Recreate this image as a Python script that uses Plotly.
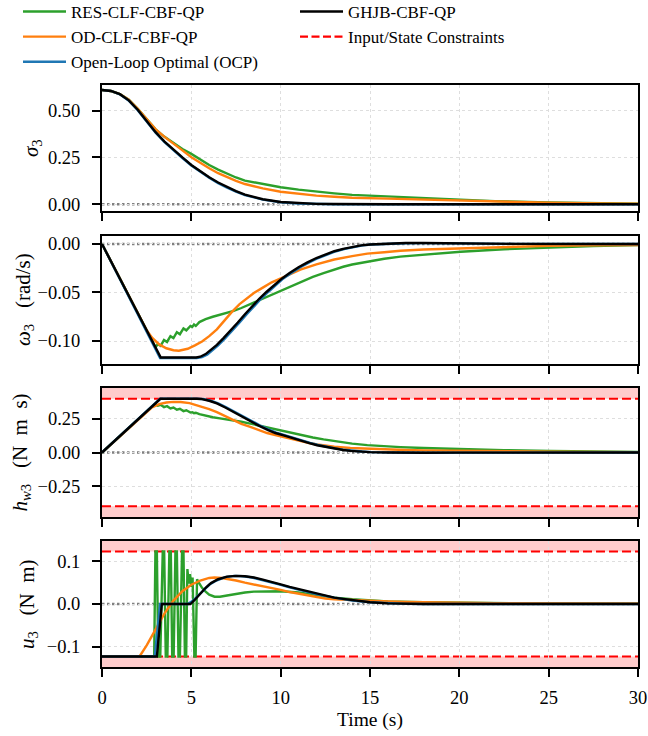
import plotly.graph_objects as go

# ---------------- data ----------------
# Panel 1: sigma_3
T_SIG = [0, 0.5, 1, 1.5, 2, 2.5, 3, 3.5, 4, 4.5, 5, 5.5, 6, 6.5, 7, 7.5, 8, 9, 10, 11, 12, 13, 14, 16, 18, 20, 22, 25, 28, 30]
SIG_RES = [0.61, 0.605, 0.589, 0.558, 0.51, 0.456, 0.40, 0.36, 0.325, 0.295, 0.269, 0.238, 0.21, 0.185, 0.162, 0.143, 0.126, 0.107, 0.091, 0.078, 0.067, 0.058, 0.050, 0.041, 0.032, 0.024, 0.017, 0.010, 0.005, 0.003]
SIG_OD = [0.61, 0.605, 0.589, 0.558, 0.51, 0.455, 0.40, 0.36, 0.326, 0.288, 0.251, 0.22, 0.192, 0.166, 0.144, 0.125, 0.108, 0.085, 0.067, 0.055, 0.046, 0.040, 0.035, 0.030, 0.025, 0.019, 0.014, 0.008, 0.004, 0.003]
SIG_OCP = [0.61, 0.605, 0.587, 0.553, 0.502, 0.442, 0.382, 0.332, 0.287, 0.247, 0.207, 0.172, 0.141, 0.113, 0.088, 0.068, 0.049, 0.025, 0.011, 0.004, 0.001, 0, 0, 0, 0, 0, 0, 0, 0, 0]
SIG_GHJB = [0.61, 0.605, 0.588, 0.555, 0.505, 0.445, 0.385, 0.335, 0.29, 0.25, 0.21, 0.175, 0.144, 0.116, 0.091, 0.070, 0.051, 0.027, 0.012, 0.005, 0.002, 0.001, 0, 0, 0, 0, 0, 0, 0, 0]

# Panel 2: omega_3 (rad/s)
T_W_RES = [0, 3.0, 3.12, 3.28, 3.47, 3.64, 3.83, 4.00, 4.19, 4.36, 4.56, 4.72, 4.95, 5.05, 5.15, 5.25, 5.45, 5.8, 6.2, 6.6, 7.0, 7.37, 7.8, 8.3, 8.77, 9.3, 9.8, 10.3, 10.8, 11.3, 11.8, 12.4, 13.0, 13.5, 14.0, 14.85, 15.8, 16.7, 18.0, 19.0, 20.08, 22.5, 25.1, 27.5, 30]
W_RES = [0, -0.1067, -0.1030, -0.1050, -0.0990, -0.1010, -0.0950, -0.0970, -0.0910, -0.0930, -0.0870, -0.0890, -0.0845, -0.0855, -0.0830, -0.0845, -0.0805, -0.0775, -0.0750, -0.0730, -0.0708, -0.0690, -0.0660, -0.0620, -0.0580, -0.0535, -0.0495, -0.0455, -0.0415, -0.0375, -0.0340, -0.0300, -0.0262, -0.0235, -0.0212, -0.0180, -0.0152, -0.0130, -0.0108, -0.0093, -0.0080, -0.0055, -0.0035, -0.0022, -0.0012]
T_W_OD = [0, 2.5, 2.8, 3.2, 3.6, 4.0, 4.3, 4.8, 5.2, 5.6, 6.0, 6.43, 6.85, 7.27, 7.7, 8.1, 8.5, 9.0, 9.5, 10.2, 11.1, 12.0, 13.0, 14.0, 14.85, 15.8, 16.7, 18.0, 20.0, 22.5, 25, 27.5, 30]
W_OD = [0, -0.0889, -0.0965, -0.1035, -0.1075, -0.1095, -0.110, -0.108, -0.1045, -0.1005, -0.095, -0.088, -0.079, -0.070, -0.062, -0.056, -0.0505, -0.045, -0.0395, -0.034, -0.0265, -0.021, -0.016, -0.0125, -0.010, -0.0085, -0.007, -0.0057, -0.0045, -0.003, -0.002, -0.0015, -0.001]
T_W_OCP = [0, 3.25, 5.3, 5.6, 5.9, 6.2, 6.5, 6.9, 7.3, 7.7, 8.1, 8.5, 8.9, 9.3, 9.7, 10.15, 10.6, 11.1, 11.6, 12.1, 12.6, 13.1, 13.6, 14.1, 14.6, 15.1, 16, 17, 18, 19.5, 21, 23, 30]
W_OCP = [0, -0.1175, -0.1175, -0.1165, -0.114, -0.1095, -0.1045, -0.097, -0.0895, -0.081, -0.0725, -0.064, -0.0565, -0.0495, -0.043, -0.0355, -0.030, -0.024, -0.019, -0.0145, -0.011, -0.0075, -0.005, -0.003, -0.0015, -0.0005, 0.0004, 0.0008, 0.0009, 0.0006, 0.0003, 0.0001, 0]
T_W_GHJB = [0, 3.29, 5.27, 5.5, 5.8, 6.1, 6.43, 6.8, 7.2, 7.6, 8.0, 8.4, 8.8, 9.2, 9.6, 10.08, 10.5, 11.0, 11.5, 12.0, 12.5, 13.0, 13.5, 14, 14.5, 15, 16, 17, 18, 19.5, 21, 23, 30]
W_GHJB = [0, -0.117, -0.117, -0.1162, -0.1135, -0.109, -0.104, -0.097, -0.0895, -0.081, -0.0725, -0.064, -0.0565, -0.0495, -0.043, -0.0355, -0.030, -0.024, -0.019, -0.0145, -0.011, -0.0075, -0.005, -0.003, -0.0015, -0.0005, 0.0005, 0.001, 0.001, 0.0006, 0.0003, 0.0001, 0]

# Panel 3: h_w3 (N m s)
T_H_RES = [0, 2.95, 3.12, 3.28, 3.47, 3.64, 3.83, 4.0, 4.19, 4.36, 4.56, 4.72, 4.95, 5.05, 5.15, 5.25, 5.45, 5.8, 6.2, 6.6, 7.0, 7.37, 7.8, 8.3, 8.8, 9.3, 9.8, 10.3, 10.8, 11.3, 11.8, 12.4, 13.0, 13.5, 14.0, 14.85, 15.8, 16.7, 18.0, 19.0, 20.08, 22.5, 25.1, 27.5, 30]
H_RES = [0, 0.36, 0.348, 0.355, 0.338, 0.345, 0.328, 0.335, 0.318, 0.325, 0.308, 0.314, 0.297, 0.300, 0.293, 0.296, 0.285, 0.273, 0.262, 0.254, 0.247, 0.240, 0.229, 0.215, 0.200, 0.185, 0.170, 0.156, 0.142, 0.125, 0.112, 0.098, 0.085, 0.075, 0.066, 0.055, 0.046, 0.040, 0.033, 0.029, 0.025, 0.017, 0.011, 0.007, 0.004]
T_H_OD = [0, 2.5, 2.8, 3.2, 3.6, 4.0, 4.4, 4.9, 5.5, 6.0, 6.43, 6.9, 7.37, 7.8, 8.3, 8.8, 9.24, 9.7, 10.17, 10.7, 11.1, 11.6, 12.04, 12.5, 13.0, 13.9, 14.85, 15.8, 17, 18, 19.5, 22, 25.1, 27.5, 30]
H_OD = [0, 0.304, 0.335, 0.36, 0.372, 0.377, 0.376, 0.367, 0.346, 0.323, 0.30, 0.27, 0.238, 0.213, 0.190, 0.165, 0.145, 0.130, 0.115, 0.097, 0.085, 0.071, 0.060, 0.051, 0.043, 0.034, 0.028, 0.023, 0.019, 0.016, 0.013, 0.009, 0.006, 0.004, 0.003]
T_H_OCP = [0, 3.25, 5.35, 5.65, 6.05, 6.5, 6.95, 7.42, 7.85, 8.35, 8.85, 9.35, 9.75, 10.22, 10.75, 11.15, 11.65, 12.1, 12.55, 13.05, 13.55, 13.95, 14.55, 15.05, 16, 17, 18, 20, 23, 30]
H_OCP = [0, 0.4, 0.4, 0.398, 0.387, 0.366, 0.337, 0.303, 0.271, 0.235, 0.201, 0.170, 0.148, 0.130, 0.107, 0.090, 0.072, 0.056, 0.043, 0.031, 0.020, 0.013, 0.007, 0.003, 0.0, -0.0015, -0.0015, -0.001, 0, 0]
T_H_GHJB = [0, 3.27, 5.3, 5.6, 6.0, 6.43, 6.9, 7.37, 7.8, 8.3, 8.8, 9.3, 9.7, 10.17, 10.7, 11.1, 11.6, 12.04, 12.5, 13.0, 13.5, 13.9, 14.5, 15, 16, 17, 18, 20, 23, 30]
H_GHJB = [0, 0.4, 0.4, 0.397, 0.385, 0.365, 0.335, 0.30, 0.268, 0.232, 0.198, 0.167, 0.145, 0.128, 0.105, 0.088, 0.070, 0.054, 0.042, 0.030, 0.019, 0.012, 0.006, 0.003, 0.0, -0.002, -0.002, -0.001, 0, 0]

# Panel 4: u_3 (N m)
T_U_RES = [0, 2.92, 2.99, 3.07, 3.15, 3.26, 3.40, 3.48, 3.57, 3.66, 3.77, 3.85, 3.93, 4.01, 4.11, 4.19, 4.28, 4.36, 4.48, 4.56, 4.64, 4.71, 4.78, 4.85, 4.93, 5.0, 5.07, 5.17, 5.24, 5.32, 5.42, 5.6, 5.8, 6.0, 6.3, 6.6, 7.0, 7.5, 8.0, 8.5, 9.2, 10.0, 11.0, 12.0, 13.0, 14.0, 15.0, 16.0, 18.0, 20.0, 22.0, 25.0, 30.0]
U_RES = [-0.123, -0.123, 0.123, 0.123, -0.123, -0.123, 0.123, 0.123, -0.123, -0.123, 0.123, 0.123, -0.123, -0.123, 0.123, 0.123, -0.123, -0.123, 0.123, 0.123, -0.123, -0.123, 0.082, 0.048, 0.070, 0.040, 0.062, -0.123, -0.123, 0.058, 0.050, 0.038, 0.029, 0.022, 0.017, 0.017, 0.020, 0.024, 0.027, 0.029, 0.030, 0.030, 0.027, 0.021, 0.015, 0.011, 0.008, 0.006, 0.004, 0.003, 0.002, 0.001, 0.0005]
T_U_OD = [0, 2.1, 2.5, 3.0, 3.5, 4.0, 4.5, 5.0, 5.5, 6.0, 6.3, 6.7, 7.0, 7.5, 8.0, 8.5, 9.0, 9.5, 10.0, 10.5, 11.0, 11.5, 12.0, 12.5, 13.0, 14.0, 15.0, 16, 17, 18, 20, 22, 25, 30]
U_OD = [-0.123, -0.123, -0.097, -0.058, -0.022, 0.008, 0.030, 0.045, 0.055, 0.061, 0.062, 0.061, 0.059, 0.055, 0.050, 0.046, 0.042, 0.037, 0.033, 0.028, 0.024, 0.020, 0.016, 0.013, 0.011, 0.009, 0.007, 0.006, 0.005, 0.004, 0.003, 0.002, 0.0015, 0.001]
T_U_OCP = [0, 2.95, 3.25, 4.8, 5.1, 5.4, 5.7, 6.0, 6.4, 6.9, 7.4, 7.9, 8.4, 8.9, 9.4, 9.9, 10.5, 11, 12, 13, 14, 15, 16, 17, 18, 30]
U_OCP = [-0.123, -0.123, 0, 0, 0.008, 0.021, 0.034, 0.045, 0.055, 0.063, 0.066, 0.065, 0.062, 0.057, 0.052, 0.046, 0.039, 0.034, 0.023, 0.015, 0.008, 0.004, 0.0015, 0.0003, 0, 0]
T_U_GHJB = [0, 3.07, 3.35, 4.95, 5.2, 5.5, 5.8, 6.1, 6.5, 7.0, 7.5, 8.0, 8.5, 9.0, 9.5, 10.0, 10.5, 11.0, 11.5, 12.0, 12.5, 13.0, 13.5, 14.0, 14.5, 15.0, 16.0, 17, 18, 30]
U_GHJB = [-0.123, -0.123, 0, 0, 0.010, 0.025, 0.038, 0.049, 0.058, 0.064, 0.066, 0.065, 0.062, 0.057, 0.052, 0.046, 0.040, 0.035, 0.029, 0.024, 0.019, 0.015, 0.012, 0.009, 0.006, 0.004, 0.0015, 0.0003, 0, 0]

H_MAX = 0.4      # wheel momentum limit
U_MAX = 0.123    # torque limit

X_TICKS = [0, 5, 10, 15, 20, 25, 30]
Y_TICKS = [[0, 0.25, 0.5], [-0.10, -0.05, 0.0], [-0.25, 0.0, 0.25], [-0.1, 0.0, 0.1]]
Y_FMT = [".2f", ".2f", ".2f", ".1f"]
Y_RANGES = [[-0.036, 0.637], [-0.1237, 0.0082], [-1.2 * H_MAX, 1.2 * H_MAX], [-1.2 * U_MAX, 1.2 * U_MAX]]
SP = "&nbsp;"
Y_LABELS = ["<i>σ</i><sub>3</sub>",
            f"<i>ω</i><sub>3</sub>{SP*3}(rad/s)",
            f"<i>h</i><sub><i>w</i>3</sub>{SP*3}(N{SP*2}m{SP*2}s)",
            f"<i>u</i><sub>3</sub>{SP*3}(N{SP*2}m)"]
LABEL_X_PX = [32, 24, 20, 28]

NAMES = ["RES-CLF-CBF-QP", "OD-CLF-CBF-QP", "Open-Loop Optimal (OCP)", "GHJB-CBF-QP"]
COLORS = ["#2ca02c", "#ff7f0e", "#1f77b4", "#000000"]
RANKS = [1, 3, 5, 2]

PANELS = [
    [(T_SIG, SIG_RES), (T_SIG, SIG_OD), (T_SIG, SIG_OCP), (T_SIG, SIG_GHJB)],
    [(T_W_RES, W_RES), (T_W_OD, W_OD), (T_W_OCP, W_OCP), (T_W_GHJB, W_GHJB)],
    [(T_H_RES, H_RES), (T_H_OD, H_OD), (T_H_OCP, H_OCP), (T_H_GHJB, H_GHJB)],
    [(T_U_RES, U_RES), (T_U_OD, U_OD), (T_U_OCP, U_OCP), (T_U_GHJB, U_GHJB)],
]

# ---------------- layout geometry ----------------
W, H = 648, 736
ML, MR, MT, MB = 102, 10, 85, 69
PH = H - MT - MB
panel_px = [(85, 211), (236, 364), (388, 517), (541, 667)]
domains = [[(H - MB - b) / PH, (H - MB - t) / PH] for (t, b) in panel_px]

FONT = "Liberation Serif, Times New Roman, serif"
TICK_SIZE = 18.5
LABEL_SIZE = 21
LEG_SIZE = 17

fig = go.Figure()

for p, series in enumerate(PANELS):
    xa = "x" if p == 0 else f"x{p+1}"
    ya = "y" if p == 0 else f"y{p+1}"
    for s, (tt, vv) in enumerate(series):
        fig.add_trace(go.Scatter(
            x=tt, y=vv, mode="lines", name=NAMES[s], legendrank=RANKS[s],
            line=dict(color=COLORS[s], width=2.4), xaxis=xa, yaxis=ya,
            showlegend=(p == 0), hoverinfo="skip"))

# legend entry for the constraint lines (the lines themselves are shapes)
fig.add_trace(go.Scatter(x=[None], y=[None], mode="lines", name="Input/State Constraints",
                         legendrank=4, line=dict(color="red", width=2.2, dash="8px,3.5px"),
                         xaxis="x3", yaxis="y3", hoverinfo="skip"))

shapes = []
for p, lim in [(2, H_MAX), (3, U_MAX)]:
    xr = f"x{p+1} domain"
    yr = f"y{p+1}"
    rng = Y_RANGES[p]
    shapes.append(dict(type="rect", xref=xr, yref=yr, x0=0, x1=1, y0=lim, y1=rng[1],
                       fillcolor="rgba(255,0,0,0.2)", line=dict(width=0), layer="below"))
    shapes.append(dict(type="rect", xref=xr, yref=yr, x0=0, x1=1, y0=rng[0], y1=-lim,
                       fillcolor="rgba(255,0,0,0.2)", line=dict(width=0), layer="below"))
    for sgn in (1, -1):
        shapes.append(dict(type="line", xref=xr, yref=yr, x0=0, x1=1, y0=sgn * lim, y1=sgn * lim,
                           line=dict(color="red", width=2.2, dash="9px,4px"), layer="below"))
for p in range(4):
    xr = ("x" if p == 0 else f"x{p+1}") + " domain"
    yr = "y" if p == 0 else f"y{p+1}"
    shapes.append(dict(type="line", xref=xr, yref=yr, x0=0, x1=1, y0=0, y1=0,
                       line=dict(color="#808080", width=2.5, dash="2.5px,2.5px"), layer="below"))

axis_common = dict(showline=True, linecolor="black", linewidth=2, mirror=True,
                   ticks="outside", ticklen=8, tickwidth=1.8, tickcolor="black",
                   showgrid=True, gridcolor="#dedede", griddash="dot", gridwidth=1,
                   zeroline=False, tickfont=dict(family=FONT, size=TICK_SIZE, color="black"),
                   layer="above traces")

layout = dict(width=W, height=H, margin=dict(l=ML, r=MR, t=MT, b=MB, autoexpand=False),
              paper_bgcolor="white", plot_bgcolor="white",
              font=dict(family=FONT, size=TICK_SIZE, color="black"), shapes=shapes)

for p in range(4):
    xk = "xaxis" if p == 0 else f"xaxis{p+1}"
    yk = "yaxis" if p == 0 else f"yaxis{p+1}"
    ya = "y" if p == 0 else f"y{p+1}"
    xa = "x" if p == 0 else f"x{p+1}"
    layout[xk] = dict(axis_common, range=[0, 30], tickvals=X_TICKS, anchor=ya,
                      showticklabels=(p == 3), domain=[0, 1], ticklabelstandoff=5)
    layout[yk] = dict(axis_common, range=Y_RANGES[p], tickvals=Y_TICKS[p], tickformat=Y_FMT[p],
                      anchor=xa, domain=domains[p], ticklabelstandoff=8)

pw = W - ML - MR
annotations = []
for p, (t, b) in enumerate(panel_px):
    annotations.append(dict(text=Y_LABELS[p], xref="paper", yref="paper",
                            x=(LABEL_X_PX[p] - ML) / pw, y=(H - MB - (t + b) / 2) / PH,
                            xanchor="center", yanchor="middle", textangle=-90, showarrow=False,
                            font=dict(family=FONT, size=LABEL_SIZE)))
annotations.append(dict(text="Time (s)", xref="paper", yref="paper", x=0.5,
                        y=(H - MB - 720) / PH, xanchor="center", yanchor="middle",
                        showarrow=False, font=dict(family=FONT, size=19.5)))
layout["annotations"] = annotations

layout["legend"] = dict(orientation="h", x=(18 - ML) / pw, y=(H - MB + 6) / PH,
                        xanchor="left", yanchor="top", entrywidth=219, entrywidthmode="pixels",
                        itemwidth=43,
                        font=dict(family=FONT, size=LEG_SIZE), bgcolor="rgba(0,0,0,0)",
                        tracegroupgap=0, traceorder="normal")

fig.update_layout(**layout)
fig.write_html("out.html")
